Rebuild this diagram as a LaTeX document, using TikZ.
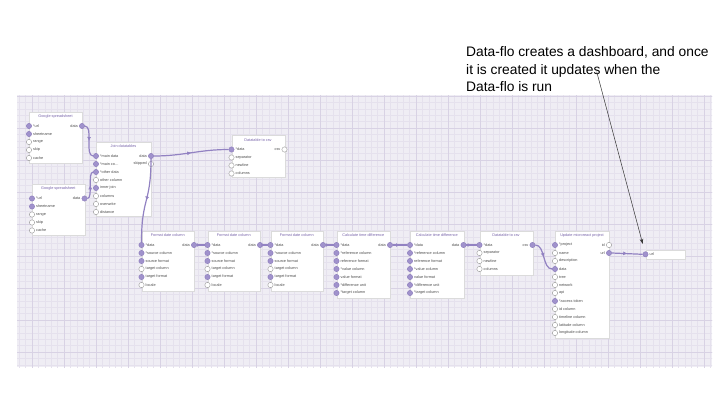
\documentclass[tikz,border=0pt]{standalone}
\usepackage{fontspec}
\setmainfont{Liberation Sans}
\usetikzlibrary{calc,arrows.meta,decorations.markings}

\definecolor{gridbg}{RGB}{239,237,244}
\definecolor{gridminor}{RGB}{229,225,237}
\definecolor{gridmajor}{RGB}{216,210,228}
\definecolor{wirecol}{RGB}{146,130,194}
\definecolor{portfill}{RGB}{160,146,204}
\definecolor{portdraw}{RGB}{140,124,188}
\definecolor{titlecol}{RGB}{120,100,170}

% one block of the flow: id, left, top, width, height, title, inputs, outputs
\newcommand{\flowbox}[8]{%
  \node[panel, minimum width=#4pt, minimum height=#5pt, anchor=north west] (#1) at (#2,#3) {};
  \node[boxtitle] (#1-t) at (#2+#4/2,#3+5) {#6};
  \foreach \lbl/\kind [count=\i] in {#7} {
    \node[port,\kind] (#1-i\i) at (#2,#3+6.5+8*\i) {};
    \node[portlabel,anchor=west] (#1-il\i) at (#2+4,#3+6.5+8*\i) {\lbl};
  }
  \foreach \lbl/\kind [count=\i] in {#8} {
    \node[port,\kind] (#1-o\i) at (#2+#4,#3+6.5+8*\i) {};
    \node[portlabel,anchor=east] (#1-ol\i) at (#2+#4-4,#3+6.5+8*\i) {\lbl};
  }
}

\begin{document}
\begin{tikzpicture}[x=1pt,y=-1pt,
  panel/.style={draw=black!14, fill=white, line width=0.4pt, inner sep=0},
  boxtitle/.style={font=\fontsize{3.8}{4}\selectfont, text=titlecol, inner sep=0},
  portlabel/.style={font=\fontsize{3.8}{4}\selectfont, text=black!70, inner sep=0},
  port/.style={circle, minimum size=5.3pt, inner sep=0, line width=0.4pt},
  pfull/.style={fill=portfill, draw=portdraw},
  pempty/.style={fill=white, draw=black!40},
  wire/.style={draw=wirecol, color=wirecol, line width=1.2pt, postaction={decorate},
    decoration={markings, mark=at position 0.5 with {\arrow{Latex[length=4pt,width=4pt]}}}},
  callout/.style={draw=black!80, line width=0.5pt, -{Stealth[length=5pt,width=3.5pt]}},
  note/.style={font=\fontsize{13.8}{17.5}\selectfont, align=left, inner sep=0}]

\path[use as bounding box, fill=white] (0,0) rectangle (720,405);

% canvas grid
\begin{scope}
  \clip (17,95) rectangle (712,367);
  \fill[gridbg] (17,95) rectangle (712,367);
  \draw[gridminor, line width=0.3pt, step=6.4pt] (0,80) grid (720,380);
  \draw[gridmajor, line width=0.4pt, step=32pt] (0,80) grid (720,380);
\end{scope}

% sources and join
\flowbox{gsA}{29}{111.5}{53}{51}{Google spreadsheet}
  {*url/pfull,sheetname/pfull,range/pempty,skip/pempty,cache/pempty}{data/pfull}
\flowbox{gsB}{32}{184}{52.5}{51}{Google spreadsheet}
  {*url/pfull,sheetname/pfull,range/pempty,skip/pempty,cache/pempty}{data/pfull}
\flowbox{join}{96}{141.5}{55}{74}{Join datatables}
  {*main data/pfull,*main co\ldots/pfull,*other data/pfull,other column/pempty,inner join/pfull,columns/pempty,overwrite/pempty,distance/pempty}
  {data/pfull,skipped/pempty}
\flowbox{csvA}{231.5}{135}{53}{42}{Datatable to csv}
  {*data/pfull,separator/pempty,newline/pempty,columns/pempty}{csv/pempty}

% bottom row
\flowbox{fdcA}{141.5}{230.5}{52.5}{60}{Format date column}
  {*data/pfull,*source column/pfull,source format/pfull,target column/pempty,target format/pfull,locale/pempty}{data/pfull}
\flowbox{fdcB}{207.5}{230.5}{52.5}{60}{Format date column}
  {*data/pfull,*source column/pfull,source format/pfull,target column/pempty,target format/pfull,locale/pempty}{data/pfull}
\flowbox{fdcC}{270.5}{230.5}{52.5}{60}{Format date column}
  {*data/pfull,*source column/pfull,source format/pfull,target column/pempty,target format/pfull,locale/pempty}{data/pfull}
\flowbox{ctdA}{336.5}{230.5}{53.5}{67}{Calculate time difference}
  {*data/pfull,*reference column/pfull,reference format/pfull,*value column/pfull,value format/pfull,*difference unit/pfull,*target column/pfull}{data/pfull}
\flowbox{ctdB}{410}{230.5}{53.5}{67}{Calculate time difference}
  {*data/pfull,*reference column/pfull,reference format/pfull,*value column/pfull,value format/pfull,*difference unit/pfull,*target column/pfull}{data/pfull}
\flowbox{csvB}{479.5}{230.5}{53}{44}{Datatable to csv}
  {*data/pfull,separator/pempty,newline/pempty,columns/pempty}{csv/pfull}
\flowbox{upd}{555}{230.5}{54}{107}{Update microreact project}
  {*project/pfull,name/pempty,description/pempty,data/pfull,tree/pempty,network/pempty,api/pempty,*access token/pfull,id column/pempty,timeline column/pempty,latitude column/pempty,longitude column/pempty}
  {id/pempty,url/pfull}

% output
\node[panel, minimum width=39pt, minimum height=9.5pt, anchor=north west] (url) at (645.5,249.5) {};
\node[port,pfull] (url-i1) at (645.5,254.3) {};
\node[portlabel,anchor=west] (url-il1) at (649.5,254.3) {url};

% wires
\draw[wire] (gsA-o1.east) .. controls +(9,0) and +(-9,0) .. (join-i1.west);
\draw[wire] (gsB-o1.east) .. controls +(6,0) and +(-6,0) .. (join-i3.west);
\draw[wire] (join-o1.east) .. controls +(30,0) and +(-30,0) .. (csvA-i1.west);
\draw[wire] (join-o1.south) .. controls +(0,45) and +(0,-45) .. (fdcA-i1.north);
\draw[wire] (fdcA-o1.east) -- (fdcB-i1.west);
\draw[wire] (fdcB-o1.east) -- (fdcC-i1.west);
\draw[wire] (fdcC-o1.east) -- (ctdA-i1.west);
\draw[wire] (ctdA-o1.east) -- (ctdB-i1.west);
\draw[wire] (ctdB-o1.east) -- (csvB-i1.west);
\draw[wire] (csvB-o1.east) .. controls +(10,0) and +(-10,0) .. (upd-i4.west);
\draw[wire] (upd-o2.east) .. controls +(15,0) and +(-15,0) .. (url-i1.west);

% note
\node[note, anchor=north west] (remark) at (466,46.5)
  {Data-flo creates a dashboard, and once\\ it is created it updates when the\\ Data-flo is run};
\coordinate (remarkfoot) at (596.7,71.7);
\draw[callout, shorten >=8pt] (remarkfoot) -- (url-i1);

\end{tikzpicture}
\end{document}
